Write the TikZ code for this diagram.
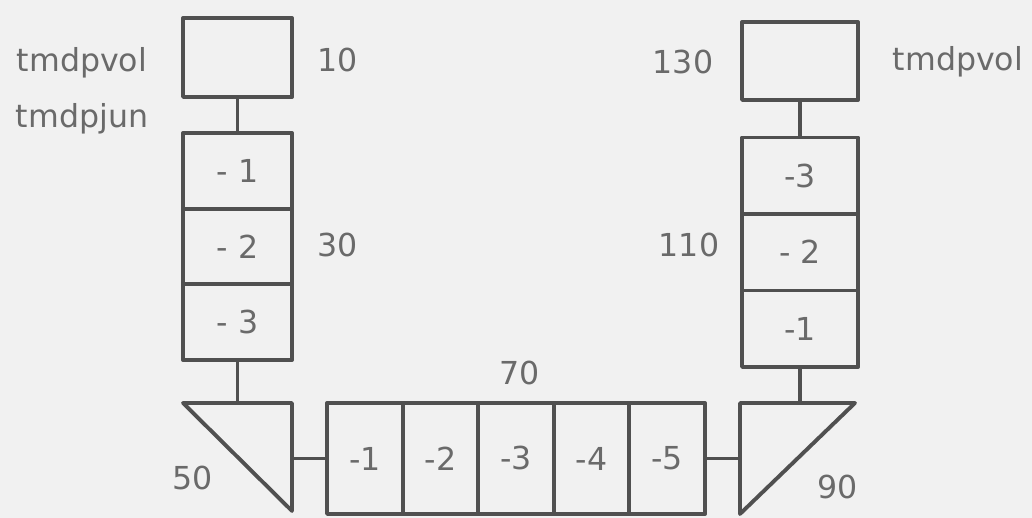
\documentclass[tikz,border=0pt]{standalone}
\usepackage{fontspec}
\setmainfont{DejaVu Sans}
\usepackage{tikz}
\usetikzlibrary{positioning}
\definecolor{inkline}{HTML}{505050}
\definecolor{inktext}{HTML}{6A6A6A}
\definecolor{paper}{HTML}{F1F1F1}

\tikzset{
    wall/.style={draw=inkline, line width=1.1pt, line join=round},
    cell/.style={wall, inner sep=0pt, text=inktext, font=\fontsize{9}{11}\selectfont},
    lbl/.style={text=inktext, font=\fontsize{9}{11}\selectfont, inner sep=0pt},
}

\begin{document}
\begin{tikzpicture}
    \fill[paper] (0,0) rectangle (10.32,5.18);

    % Left side: tmdpvol 10, pipe 30, branch 50
    \node[cell, minimum width=1.09cm, minimum height=0.79cm] (v10) at (2.375, 4.605) {};
    \foreach \k/\txt in {1/- 1, 2/- 2, 3/- 3} {
        \node[cell, minimum width=1.09cm, minimum height=0.757cm] (p30-\k) at (2.375, {3.85-(\k-0.5)*0.757}) {\txt};
    }
    \coordinate (t50a) at (1.83, 1.15);
    \coordinate (t50b) at (2.92, 1.15);
    \coordinate (t50c) at (2.92, 0.07);
    \draw[wall] (t50a) -- (t50b) -- (t50c) -- cycle;

    \node[lbl] (n10) at (3.38, 4.58) {10};
    \node[lbl] (n30) at (3.38, 2.73) {30};
    \node[lbl] (n50) at (1.93, 0.40) {50};
    \node[lbl] (tv1) at (0.82, 4.55) {tmdpvol};
    \node[lbl] (tj1) at (0.82, 3.99) {tmdpjun};

    \draw[wall] (v10) -- (p30-1);
    \draw[wall] (p30-3.south) -- (p30-3.south |- t50b);

    % Bottom: pipe 70
    \foreach \k in {1,...,5} {
        \node[cell, minimum width=0.756cm, minimum height=1.11cm] (p70-\k) at ({3.27+(\k-0.5)*0.756}, 0.595) {-\k};
    }
    \node[lbl] (n70) at (5.20, 1.45) {70};
    \draw[wall] (p70-1.west) -- (p70-1.west -| t50b);

    % Right side: branch 90, pipe 110, tmdpvol 130
    \coordinate (t90a) at (7.40, 1.15);
    \coordinate (t90b) at (8.55, 1.15);
    \coordinate (t90c) at (7.40, 0.04);
    \draw[wall] (t90a) -- (t90b) -- (t90c) -- cycle;
    \foreach \k/\txt in {1/-1, 2/- 2, 3/-3} {
        \node[cell, minimum width=1.16cm, minimum height=0.765cm] (p110-\k) at (8.00, {1.51+(\k-0.5)*0.765}) {\txt};
    }
    \node[cell, minimum width=1.16cm, minimum height=0.78cm] (v130) at (8.00, 4.57) {};

    \node[lbl] (n90) at (8.38, 0.31) {90};
    \node[lbl] (n110) at (6.89, 2.73) {110};
    \node[lbl] (n130) at (6.83, 4.56) {130};
    \node[lbl] (tv2) at (9.58, 4.56) {tmdpvol};

    \draw[wall] (p70-5.east) -- (p70-5.east -| t90a);
    \draw[wall] (p110-1.south) -- (p110-1.south |- t90a);
    \draw[wall] (v130) -- (p110-3);
\end{tikzpicture}
\end{document}
